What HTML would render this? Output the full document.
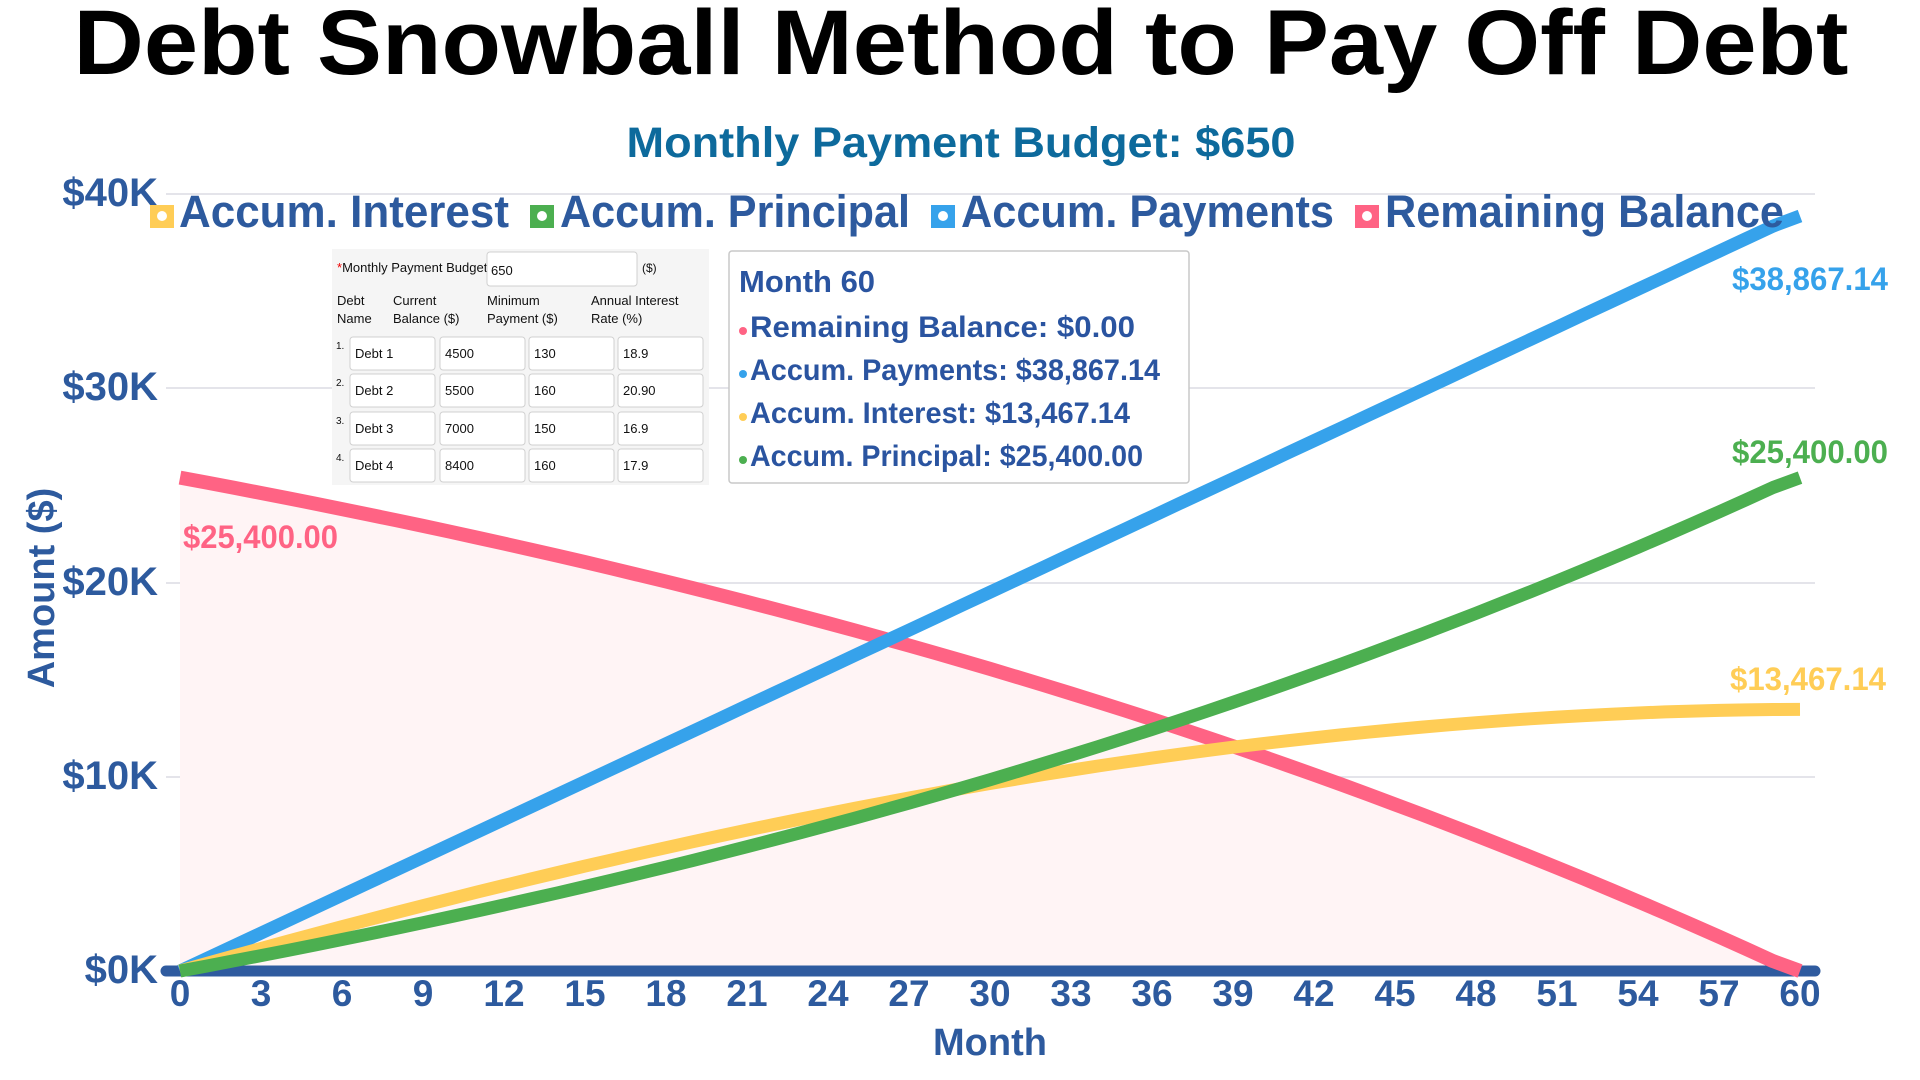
<!DOCTYPE html>
<html><head><meta charset="utf-8">
<style>
html,body{margin:0;padding:0;background:#fff;width:1920px;height:1080px;overflow:hidden}
svg{display:block}
text{font-family:"Liberation Sans",sans-serif}
</style></head>
<body>
<svg id="s" width="1920" height="1080" viewBox="0 0 1920 1080" xmlns="http://www.w3.org/2000/svg">
<text x="961" y="74" text-anchor="middle" font-size="92" font-weight="bold" fill="#000" textLength="1775" lengthAdjust="spacingAndGlyphs">Debt Snowball Method to Pay Off Debt</text>
<text x="961" y="157" text-anchor="middle" font-size="43" font-weight="bold" fill="#0d6a9c" textLength="669" lengthAdjust="spacingAndGlyphs">Monthly Payment Budget: $650</text>

<g stroke="#dcdce4" stroke-width="1.5">
<line x1="166" y1="194" x2="1815" y2="194"/>
<line x1="166" y1="388" x2="1815" y2="388"/>
<line x1="166" y1="583" x2="1815" y2="583"/>
<line x1="166" y1="777" x2="1815" y2="777"/>
</g>
<path id="fill" fill="#fff4f5" d=""/>
<g font-size="40" font-weight="bold" fill="#2d5a9e" text-anchor="end">
<text x="158" y="206">$40K</text>
<text x="158" y="400">$30K</text>
<text x="158" y="595">$20K</text>
<text x="158" y="789">$10K</text>
<text x="158" y="983">$0K</text>
</g>
<line x1="166" y1="971" x2="1815" y2="971" stroke="#2f5b9f" stroke-width="11" stroke-linecap="round"/>
<g id="xt" font-size="37" font-weight="bold" fill="#2d5a9e" text-anchor="middle"></g>
<text x="990" y="1055" text-anchor="middle" font-size="38" font-weight="bold" fill="#2d5a9e">Month</text>
<text transform="translate(54,588) rotate(-90)" text-anchor="middle" font-size="38" font-weight="bold" fill="#2d5a9e">Amount ($)</text>

<g fill="none" stroke-width="13" stroke-linejoin="round">
<path id="pBal" stroke="#ff6384" stroke-width="14"/>
<path id="pPay" stroke="#36a2eb"/>
<path id="pInt" stroke="#ffcd56"/>
<path id="pPri" stroke="#4caf50"/>
</g>

<g font-size="45" font-weight="bold" fill="#2d5a9e">
<rect x="150" y="205" width="24" height="23" fill="#ffcd56"/><circle cx="162" cy="216" r="5" fill="#fff"/>
<text x="179" y="227" textLength="330" lengthAdjust="spacingAndGlyphs">Accum. Interest</text>
<rect x="530" y="205" width="24" height="23" fill="#4caf50"/><circle cx="542" cy="216" r="5" fill="#fff"/>
<text x="560" y="227" textLength="350" lengthAdjust="spacingAndGlyphs">Accum. Principal</text>
<rect x="931" y="205" width="24" height="23" fill="#36a2eb"/><circle cx="943" cy="216" r="5" fill="#fff"/>
<text x="961" y="227" textLength="373" lengthAdjust="spacingAndGlyphs">Accum. Payments</text>
<rect x="1355" y="205" width="24" height="23" fill="#ff6384"/><circle cx="1367" cy="216" r="5" fill="#fff"/>
<text x="1385" y="227" textLength="399" lengthAdjust="spacingAndGlyphs">Remaining Balance</text>
</g>

<g font-size="32" font-weight="bold">
<text x="1732" y="290" fill="#36a2eb" textLength="156" lengthAdjust="spacingAndGlyphs">$38,867.14</text>
<text x="1732" y="463" fill="#4caf50" textLength="156" lengthAdjust="spacingAndGlyphs">$25,400.00</text>
<text x="1730" y="690" fill="#ffcd56" textLength="156" lengthAdjust="spacingAndGlyphs">$13,467.14</text>
<text x="183" y="548" fill="#ff6384" textLength="155" lengthAdjust="spacingAndGlyphs">$25,400.00</text>
</g>

<rect x="332" y="249" width="377" height="236" fill="#f5f5f5"/>
<g font-size="13" fill="#111">
<text x="337" y="272"><tspan fill="#e00">*</tspan>Monthly Payment Budget</text>
<rect x="487" y="252" width="150" height="34" rx="3" fill="#fff" stroke="#d0d0d0"/>
<text x="491" y="275">650</text>
<text x="642" y="272" font-size="12">($)</text>
<text x="337" y="305">Debt</text><text x="337" y="323">Name</text>
<text x="393" y="305">Current</text><text x="393" y="323">Balance ($)</text>
<text x="487" y="305">Minimum</text><text x="487" y="323">Payment ($)</text>
<text x="591" y="305">Annual Interest</text><text x="591" y="323">Rate (%)</text>
</g>
<g id="rows" font-size="13" fill="#111"></g>

<rect x="729" y="251" width="460" height="232" rx="3" fill="#fff" stroke="#c8c8c8" stroke-width="1.5"/>
<g font-size="30" font-weight="bold" fill="#2a54a0">
<text x="739" y="292" font-size="31">Month 60</text>
<circle cx="743" cy="331" r="4" fill="#ff6384"/><text x="750" y="337" textLength="385" lengthAdjust="spacingAndGlyphs">Remaining Balance: $0.00</text>
<circle cx="743" cy="374" r="4" fill="#36a2eb"/><text x="750" y="380" textLength="410" lengthAdjust="spacingAndGlyphs">Accum. Payments: $38,867.14</text>
<circle cx="743" cy="417" r="4" fill="#ffcd56"/><text x="750" y="423" textLength="380" lengthAdjust="spacingAndGlyphs">Accum. Interest: $13,467.14</text>
<circle cx="743" cy="460" r="4" fill="#4caf50"/><text x="750" y="466" textLength="393" lengthAdjust="spacingAndGlyphs">Accum. Principal: $25,400.00</text>
</g>
</svg>
<script>
(function(){
var NS="http://www.w3.org/2000/svg";
function X(m){return 180+27*m;}
function Y(v){return 971-v*0.019425;}
var xt=document.getElementById('xt');
for(var m=0;m<=60;m+=3){var t=document.createElementNS(NS,'text');t.setAttribute('x',X(m));t.setAttribute('y',1006);t.textContent=m;xt.appendChild(t);}
var rows=document.getElementById('rows');
var data=[["Debt 1","4500","130","18.9"],["Debt 2","5500","160","20.90"],["Debt 3","7000","150","16.9"],["Debt 4","8400","160","17.9"]];
var cols=[[350,85],[440,85],[529,85],[618,85]];var ys=[337,374,412,449];
for(var i=0;i<4;i++){
 var n=document.createElementNS(NS,'text');n.setAttribute('x',336);n.setAttribute('y',ys[i]+12);n.setAttribute('font-size','10');n.textContent=(i+1)+".";rows.appendChild(n);
 for(var j=0;j<4;j++){
  var r=document.createElementNS(NS,'rect');r.setAttribute('x',cols[j][0]);r.setAttribute('y',ys[i]);r.setAttribute('width',cols[j][1]);r.setAttribute('height',33);r.setAttribute('rx',3);r.setAttribute('fill','#fff');r.setAttribute('stroke','#d0d0d0');rows.appendChild(r);
  var t=document.createElementNS(NS,'text');t.setAttribute('x',cols[j][0]+5);t.setAttribute('y',ys[i]+21);t.textContent=data[i][j];rows.appendChild(t);
 }
}
var bal=[4500,5500,7000,8400],rate=[18.9,20.9,16.9,17.9],mins=[130,160,150,160];
var P=[0],I=[0],B=[25400];var cp=0,ci=0,mth=0;
while(bal.some(function(b){return b>0.005;})&&mth<200){
 mth++;var budget=650;
 for(var k=0;k<4;k++){if(bal[k]>0){var it=bal[k]*rate[k]/1200;bal[k]+=it;ci+=it;}}
 for(var k=0;k<4;k++){if(bal[k]>0){var p=Math.min(mins[k],bal[k]);bal[k]-=p;budget-=p;cp+=p;}}
 for(var k=0;k<4;k++){if(bal[k]>0&&budget>0){var p=Math.min(budget,bal[k]);bal[k]-=p;budget-=p;cp+=p;}}
 P.push(cp);I.push(ci);B.push(bal.reduce(function(a,b){return a+Math.max(b,0);},0));
}
var N=P.length-1,sI=13467.14/I[N];
function pts(f){var s="";for(var i=0;i<=N;i++){var m=i*60/N;s+=(i?"L":"M")+X(m).toFixed(1)+","+Y(f(i)).toFixed(1);}return s;}
var intF=function(i){return I[i]*sI;};
var balF=function(i){return B[i];};
var priF=function(i){return 25400-B[i];};
var payF=function(i){return 25400-B[i]+I[i]*sI;};
document.getElementById('pBal').setAttribute('d',pts(balF));
document.getElementById('pPay').setAttribute('d',pts(payF));
document.getElementById('pInt').setAttribute('d',pts(intF));
document.getElementById('pPri').setAttribute('d',pts(priF));
document.getElementById('fill').setAttribute('d',pts(balF)+"L"+X(60)+","+Y(0)+"L"+X(0)+","+Y(0)+"Z");
})();
</script>
</body></html>
